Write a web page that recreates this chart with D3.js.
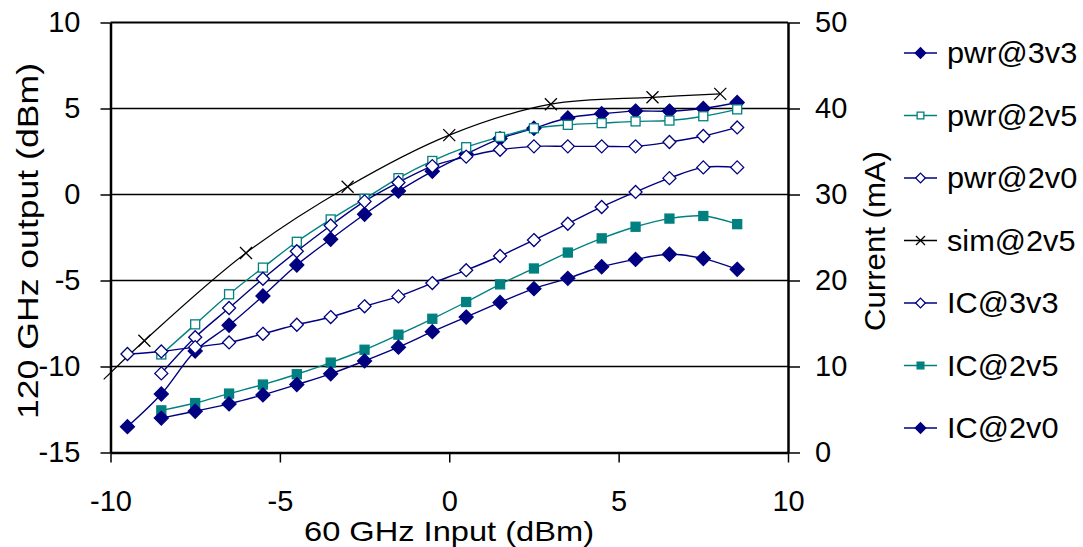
<!DOCTYPE html>
<html>
<head>
<meta charset="utf-8">
<script src="https://cdn.jsdelivr.net/npm/d3@7"></script>
<style>
  body { margin: 0; background: #fff; }
  text { font-family: "Liberation Sans", Arial, sans-serif; fill: #000; }
</style>
</head>
<body>
<svg id="chart" width="1083" height="547"></svg>
<script>
// input power (dBm) for measured points
const xFrom95 = [-9.5, -8.5, -7.5, -6.5, -5.5, -4.5, -3.5, -2.5, -1.5, -0.5, 0.5, 1.5, 2.5, 3.5, 4.5, 5.5, 6.5, 7.5, 8.5]
const xFrom85 = [-8.5, -7.5, -6.5, -5.5, -4.5, -3.5, -2.5, -1.5, -0.5, 0.5, 1.5, 2.5, 3.5, 4.5, 5.5, 6.5, 7.5, 8.5]

// output power (dBm), left axis
const pwr3v3 = [-13.5, -11.6, -9.1, -7.6, -5.9, -4.1, -2.6, -1.15, 0.2, 1.35, 2.35, 3.25, 3.85, 4.45, 4.7, 4.85, 4.85, 5.0, 5.35]
const pwr2v5 = [-9.3, -7.55, -5.8, -4.25, -2.75, -1.45, -0.25, 0.95, 1.95, 2.75, 3.35, 3.85, 4.05, 4.15, 4.25, 4.3, 4.55, 4.95]
const pwr2v0 = [-10.4, -8.3, -6.6, -4.9, -3.3, -1.8, -0.4, 0.7, 1.65, 2.2, 2.6, 2.8, 2.8, 2.8, 2.8, 3.05, 3.4, 3.9]
const simX = [-10.2, -9, -6, -3, 0, 3, 6, 8]
const sim2v5 = [-10.75, -8.5, -3.4, 0.45, 3.45, 5.25, 5.65, 5.85]

// current (mA), right axis
const ic3v3 = [11.45, 11.75, 12.25, 12.8, 13.8, 14.85, 15.75, 17.0, 18.15, 19.7, 21.2, 22.85, 24.7, 26.6, 28.55, 30.3, 31.9, 33.15, 33.15]
const ic2v5 = [4.9, 5.75, 6.85, 7.9, 9.1, 10.45, 11.95, 13.7, 15.55, 17.5, 19.55, 21.4, 23.25, 24.9, 26.25, 27.2, 27.5, 26.55]
const ic2v0 = [4.0, 4.8, 5.65, 6.7, 7.9, 9.15, 10.65, 12.25, 14.05, 15.75, 17.45, 19.05, 20.25, 21.6, 22.45, 23.05, 22.55, 21.3]

const xTicks = [-10, -5, 0, 5, 10]
const leftTicks = [-15, -10, -5, 0, 5, 10]
const rightTicks = [0, 10, 20, 30, 40, 50]
const gridVals = [-10, -5, 0, 5]

const navy = '#000080'
const teal = '#008080'

const series = [
  {name: 'pwr@3v3', xs: xFrom95, ys: pwr3v3, axis: 'L', color: navy, marker: 'diamond', fill: true},
  {name: 'pwr@2v5', xs: xFrom85, ys: pwr2v5, axis: 'L', color: teal, marker: 'square', fill: false},
  {name: 'pwr@2v0', xs: xFrom85, ys: pwr2v0, axis: 'L', color: navy, marker: 'diamond', fill: false},
  {name: 'sim@2v5', xs: simX, ys: sim2v5, axis: 'L', color: '#000', marker: 'x', fill: false},
  {name: 'IC@3v3', xs: xFrom95, ys: ic3v3, axis: 'R', color: navy, marker: 'diamond', fill: false},
  {name: 'IC@2v5', xs: xFrom85, ys: ic2v5, axis: 'R', color: teal, marker: 'square', fill: true},
  {name: 'IC@2v0', xs: xFrom85, ys: ic2v0, axis: 'R', color: navy, marker: 'diamond', fill: true}
]

const svg = d3.select('#chart')
const plotL = 110.5, plotR = 788, plotT = 22.5, plotB = 452.5
const fontSize = '29px'

const x = d3.scaleLinear().domain([-10, 10]).range([plotL, plotR])
const yL = d3.scaleLinear().domain([-15, 10]).range([plotB, plotT])
const yR = d3.scaleLinear().domain([0, 50]).range([plotB, plotT])

// gridlines
svg.append('g').selectAll('line')
  .data(gridVals)
  .enter().append('line')
  .attr('x1', plotL).attr('x2', plotR)
  .attr('y1', d => yL(d)).attr('y2', d => yL(d))
  .attr('stroke', '#000').attr('stroke-width', 1.5)

// top border
svg.append('line')
  .attr('x1', plotL).attr('x2', plotR)
  .attr('y1', plotT).attr('y2', plotT)
  .attr('stroke', '#000').attr('stroke-width', 2)

// axes
function styleAxis(g) {
  g.select('.domain').attr('stroke-width', 2.5)
  g.selectAll('.tick line').attr('stroke-width', 1.5)
  g.selectAll('.tick text').style('font-size', fontSize).style('font-family', '"Liberation Sans", Arial, sans-serif')
}
const plain = d => String(d)

svg.append('g')
  .attr('transform', 'translate(0,' + plotB + ')')
  .call(d3.axisBottom(x).tickValues(xTicks).tickFormat(plain).tickSize(10).tickSizeOuter(0).tickPadding(28))
  .call(styleAxis)

svg.append('g')
  .attr('transform', 'translate(' + plotL + ',0)')
  .call(d3.axisLeft(yL).tickValues(leftTicks).tickFormat(plain).tickSize(10).tickSizeOuter(0).tickPadding(20))
  .call(styleAxis)

svg.append('g')
  .attr('transform', 'translate(' + plotR + ',0)')
  .call(d3.axisRight(yR).tickValues(rightTicks).tickFormat(plain).tickSize(12).tickSizeOuter(0).tickPadding(15))
  .call(styleAxis)

// series lines
const line = d3.line().curve(d3.curveCatmullRom.alpha(0.5))

series.forEach(s => {
  const yS = s.axis === 'L' ? yL : yR
  const pts = s.xs.map((v, i) => [x(v), yS(s.ys[i])])
  svg.append('path')
    .attr('d', line(pts))
    .attr('fill', 'none')
    .attr('stroke', s.marker === 'x' ? '#000' : s.color)
    .attr('stroke-width', s.marker === 'x' ? 1.2 : 1.4)
})

function drawMarker(g, s, cx, cy, scale) {
  const k = scale || 1
  if (s.marker === 'diamond') {
    const r = (s.fill ? 7 : 6.5) * k
    g.append('path')
      .attr('d', 'M' + cx + ',' + (cy - r) + 'L' + (cx + r) + ',' + cy + 'L' + cx + ',' + (cy + r) + 'L' + (cx - r) + ',' + cy + 'Z')
      .attr('fill', s.fill ? s.color : '#fff')
      .attr('stroke', s.color).attr('stroke-width', 1.3)
  } else if (s.marker === 'square') {
    const r = 4.5 * k
    g.append('rect')
      .attr('x', cx - r).attr('y', cy - r).attr('width', 2 * r).attr('height', 2 * r)
      .attr('fill', s.fill ? s.color : '#fff')
      .attr('stroke', s.color).attr('stroke-width', 1.3)
  } else {
    const r = 6 * k
    g.append('path')
      .attr('d', 'M' + (cx - r) + ',' + (cy - r) + 'L' + (cx + r) + ',' + (cy + r) + 'M' + (cx - r) + ',' + (cy + r) + 'L' + (cx + r) + ',' + (cy - r))
      .attr('stroke', '#000').attr('stroke-width', 1.3).attr('fill', 'none')
  }
}

// markers (only inside the plot range)
series.forEach(s => {
  const yS = s.axis === 'L' ? yL : yR
  const g = svg.append('g')
  s.xs.forEach((v, i) => {
    if (v < -10 || v > 10) return
    drawMarker(g, s, x(v), yS(s.ys[i]))
  })
})

// axis titles (the original font runs wide, so stretch to its length)
svg.append('text')
  .attr('transform', 'translate(38,241) rotate(-90)')
  .attr('text-anchor', 'middle')
  .attr('textLength', 356).attr('lengthAdjust', 'spacingAndGlyphs')
  .style('font-size', fontSize)
  .text('120 GHz output (dBm)')

svg.append('text')
  .attr('transform', 'translate(885,241) rotate(-90)')
  .attr('text-anchor', 'middle')
  .attr('textLength', 180).attr('lengthAdjust', 'spacingAndGlyphs')
  .style('font-size', fontSize)
  .text('Current (mA)')

svg.append('text')
  .attr('x', 449).attr('y', 541)
  .attr('text-anchor', 'middle')
  .attr('textLength', 290).attr('lengthAdjust', 'spacingAndGlyphs')
  .style('font-size', '28px')
  .text('60 GHz Input (dBm)')

// legend
const legendY = d3.scalePoint().domain(series.map(s => s.name)).range([53, 428])
const legend = svg.append('g')
series.forEach(s => {
  const ly = legendY(s.name)
  legend.append('line')
    .attr('x1', 904).attr('x2', 937).attr('y1', ly).attr('y2', ly)
    .attr('stroke', s.marker === 'x' ? '#000' : s.color).attr('stroke-width', 1.3)
  drawMarker(legend, s, 920.5, ly, 0.75)
  const t = legend.append('text')
    .attr('x', 947).attr('y', ly + 10)
    .style('font-size', fontSize)
    .text(s.name)
  const w = t.node().getComputedTextLength()
  t.attr('textLength', w * 1.06).attr('lengthAdjust', 'spacingAndGlyphs')
})
</script>
</body>
</html>
